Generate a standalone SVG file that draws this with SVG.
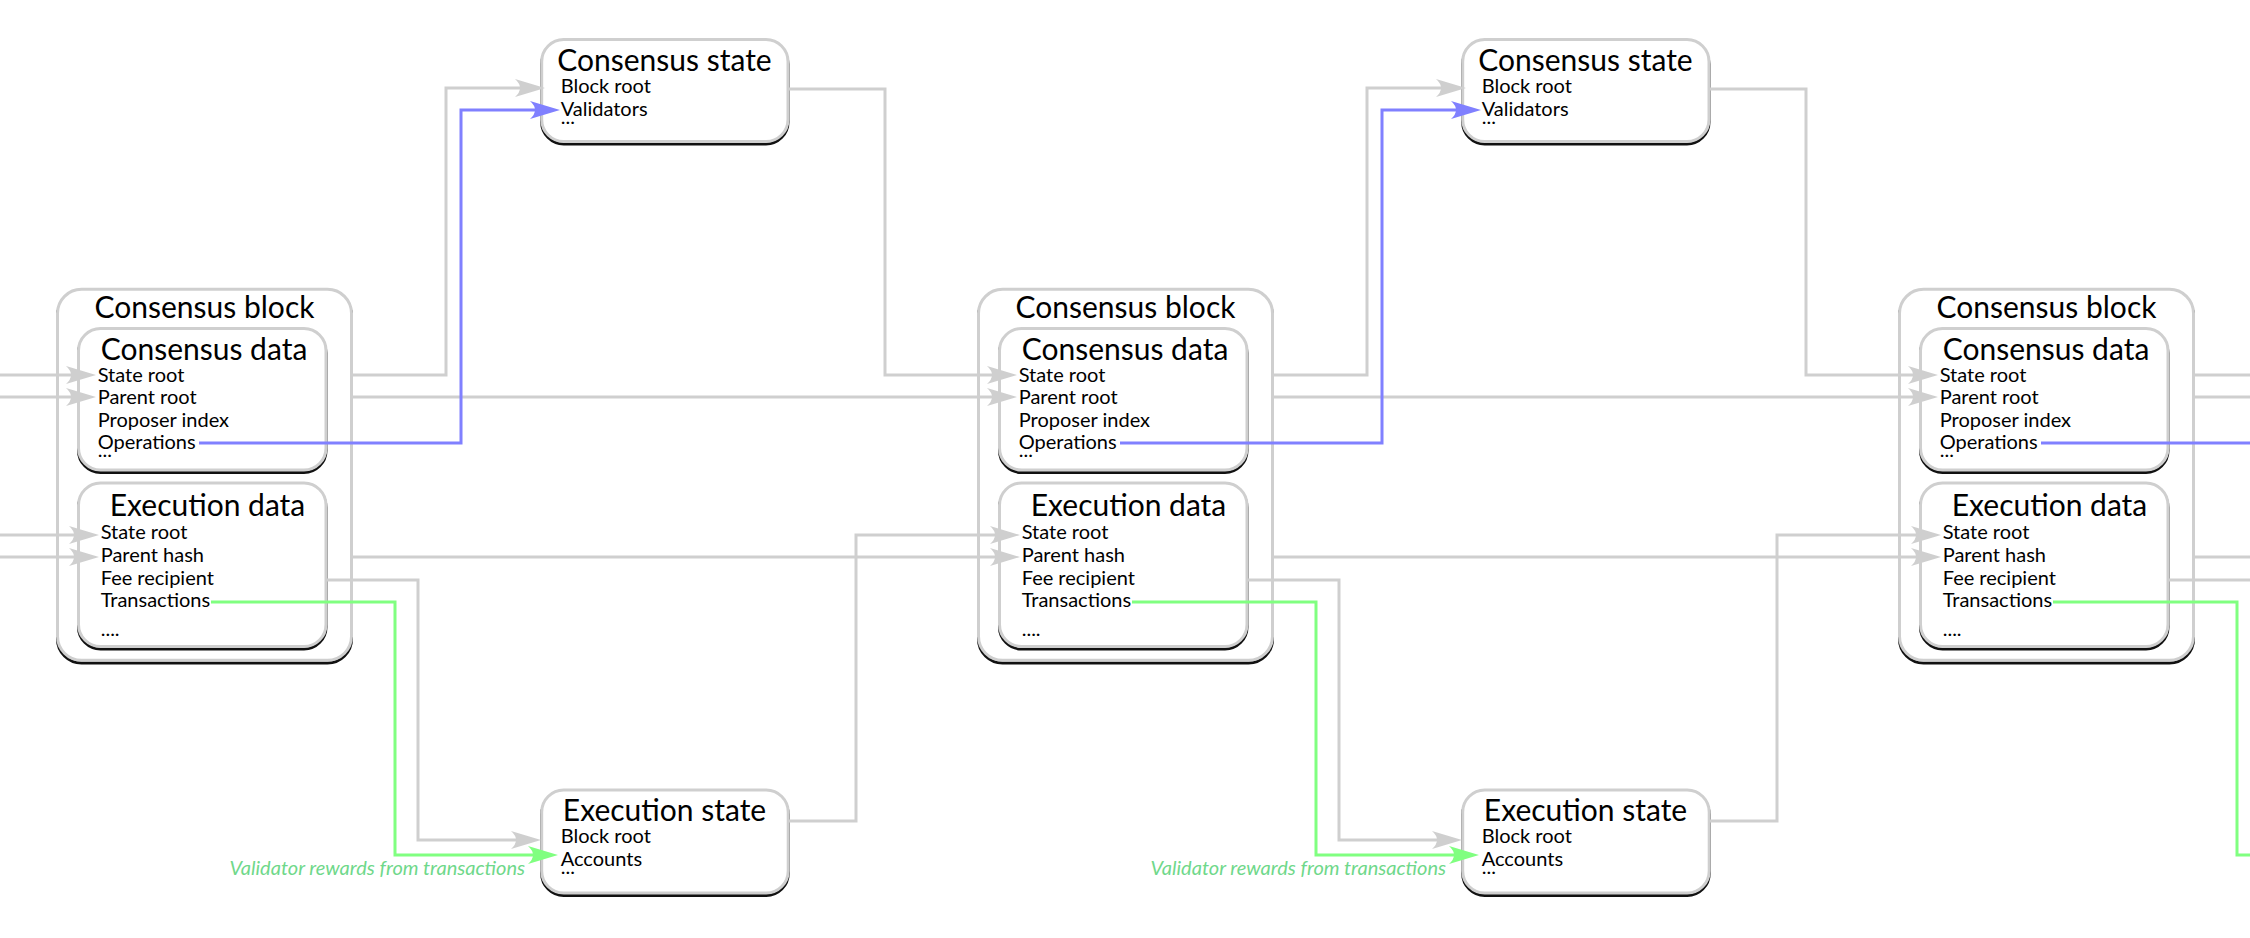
<svg xmlns="http://www.w3.org/2000/svg" width="2250" height="938" viewBox="0 0 2250 938">
<style>
.box{fill:#fff;stroke:#cfcfcf;stroke-width:3}
.sh{fill:none;stroke:#111;stroke-width:3}
.t{font-family:Lato,"Liberation Sans",sans-serif;font-size:30px;fill:#000;text-anchor:middle}
.i{font-family:Lato,"Liberation Sans",sans-serif;font-size:20px;fill:#000}
.c{fill:none;stroke:#cfcfcf;stroke-width:3}
.cb{fill:none;stroke:#8080ff;stroke-width:3}
.cg{fill:none;stroke:#80ff80;stroke-width:3}
.lbl{font-family:Lato,"Liberation Sans",sans-serif;font-size:20px;font-style:italic;fill:#6fd88a;text-anchor:end}
</style>
<defs>
<marker id="ag" markerUnits="userSpaceOnUse" markerWidth="40" markerHeight="24" viewBox="-32 -12 40 24" refX="-8" refY="0" orient="auto" overflow="visible"><path d="M0,0 L-30,-9 Q-20,0 -30,9 Z" fill="#cfcfcf"/></marker>
<marker id="ab" markerUnits="userSpaceOnUse" markerWidth="40" markerHeight="24" viewBox="-32 -12 40 24" refX="-8" refY="0" orient="auto" overflow="visible"><path d="M0,0 L-30,-9 Q-20,0 -30,9 Z" fill="#8080ff"/></marker>
<marker id="agr" markerUnits="userSpaceOnUse" markerWidth="40" markerHeight="24" viewBox="-32 -12 40 24" refX="-8" refY="0" orient="auto" overflow="visible"><path d="M0,0 L-30,-9 Q-20,0 -30,9 Z" fill="#80ff80"/></marker>
<g id="blockTpl">
<rect class="sh" x="57.5" y="292" width="294" height="371" rx="24"/>
<rect class="box" x="57.5" y="289.3" width="294" height="371" rx="24"/>
<text class="t" x="204.5" y="317.5">Consensus block</text>
</g>
<g id="cdTpl">
<rect class="sh" x="78.5" y="331" width="247.5" height="141.5" rx="22"/>
<rect class="box" x="78.5" y="328.5" width="247.5" height="141.5" rx="22"/>
<text class="t" x="204" y="359.5">Consensus data</text>
<text class="i" x="97.7" y="382">State root</text>
<text class="i" x="97.7" y="404.3">Parent root</text>
<text class="i" x="97.7" y="426.7">Proposer index</text>
<text class="i" x="97.7" y="449">Operations</text>
<text class="i" x="97.7" y="457">...</text>
</g>
<g id="edTpl">
<rect class="sh" x="78.5" y="485.5" width="247.5" height="163.5" rx="22"/>
<rect class="box" x="78.5" y="483" width="247.5" height="163.5" rx="22"/>
<text class="t" x="207.5" y="515.5">Execution data</text>
<text class="i" x="100.7" y="539.3">State root</text>
<text class="i" x="100.7" y="562.3">Parent hash</text>
<text class="i" x="100.7" y="584.5">Fee recipient</text>
<text class="i" x="100.7" y="606.7">Transactions</text>
<text class="i" x="100.7" y="636">....</text>
</g>
<g id="csTpl">
<rect class="sh" x="541.7" y="42" width="246.3" height="102" rx="22"/>
<rect class="box" x="541.7" y="39.5" width="246.3" height="102" rx="22"/>
<text class="t" x="664.5" y="71">Consensus state</text>
<text class="i" x="560.7" y="93.3">Block root</text>
<text class="i" x="560.7" y="116">Validators</text>
<text class="i" x="560.7" y="123.5">...</text>
</g>
<g id="esTpl">
<rect class="sh" x="541.7" y="792.5" width="246.5" height="103" rx="22"/>
<rect class="box" x="541.7" y="790" width="246.5" height="103" rx="22"/>
<text class="t" x="664.5" y="821">Execution state</text>
<text class="i" x="560.7" y="843.3">Block root</text>
<text class="i" x="560.7" y="866">Accounts</text>
<text class="i" x="560.7" y="874">...</text>
</g>
</defs>
<rect width="2250" height="938" fill="#fff"/>
<g id="block1"><use href="#blockTpl"/></g>
<g id="block1-consensus-data"><use href="#cdTpl"/></g>
<g id="block1-execution-data"><use href="#edTpl"/></g>
<g id="consensus-state1"><use href="#csTpl"/></g>
<g id="execution-state1"><use href="#esTpl"/></g>
<g id="block2" transform="translate(921,0)"><use href="#blockTpl"/></g>
<g id="block2-consensus-data" transform="translate(921,0)"><use href="#cdTpl"/></g>
<g id="block2-execution-data" transform="translate(921,0)"><use href="#edTpl"/></g>
<g id="consensus-state2" transform="translate(921,0)"><use href="#csTpl"/></g>
<g id="execution-state2" transform="translate(921,0)"><use href="#esTpl"/></g>
<g id="block3" transform="translate(1842,0)"><use href="#blockTpl"/></g>
<g id="block3-consensus-data" transform="translate(1842,0)"><use href="#cdTpl"/></g>
<g id="block3-execution-data" transform="translate(1842,0)"><use href="#edTpl"/></g>
<g id="connectors">
<path class="c" d="M0,375 H88" marker-end="url(#ag)"/>
<path class="c" d="M0,397 H88" marker-end="url(#ag)"/>
<path class="c" d="M0,535 H91" marker-end="url(#ag)"/>
<path class="c" d="M0,557 H91" marker-end="url(#ag)"/>
<path class="c" d="M352,375 H446 V88 H537" marker-end="url(#ag)"/>
<path class="c" d="M352,397 H1009" marker-end="url(#ag)"/>
<path class="c" d="M352,557 H1012" marker-end="url(#ag)"/>
<path class="c" d="M326,580 H418 V840 H533" marker-end="url(#ag)"/>
<path class="c" d="M788,89 H885 V375 H1009" marker-end="url(#ag)"/>
<path class="c" d="M788,821 H856 V535 H1012" marker-end="url(#ag)"/>
<path class="cb" d="M199,443 H461 V110 H552" marker-end="url(#ab)"/>
<path class="cg" d="M211,602 H395 V855 H550" marker-end="url(#agr)"/>
<path class="c" d="M1273,375 H1367 V88 H1458" marker-end="url(#ag)"/>
<path class="c" d="M1273,397 H1930" marker-end="url(#ag)"/>
<path class="c" d="M1273,557 H1933" marker-end="url(#ag)"/>
<path class="c" d="M1247,580 H1339 V840 H1454" marker-end="url(#ag)"/>
<path class="c" d="M1709,89 H1806 V375 H1930" marker-end="url(#ag)"/>
<path class="c" d="M1709,821 H1777 V535 H1933" marker-end="url(#ag)"/>
<path class="cb" d="M1120,443 H1382 V110 H1473" marker-end="url(#ab)"/>
<path class="cg" d="M1132,602 H1316 V855 H1471" marker-end="url(#agr)"/>
<path class="c" d="M2194,375 H2250"/>
<path class="c" d="M2194,397 H2250"/>
<path class="c" d="M2194,557 H2250"/>
<path class="c" d="M2168,580 H2250"/>
<path class="cb" d="M2041,443 H2250"/>
<path class="cg" d="M2053,602 H2237 V855 H2250"/>
</g>
<text class="lbl" x="525" y="875">Validator rewards from transactions</text>
<text class="lbl" x="1446" y="875">Validator rewards from transactions</text>
</svg>
